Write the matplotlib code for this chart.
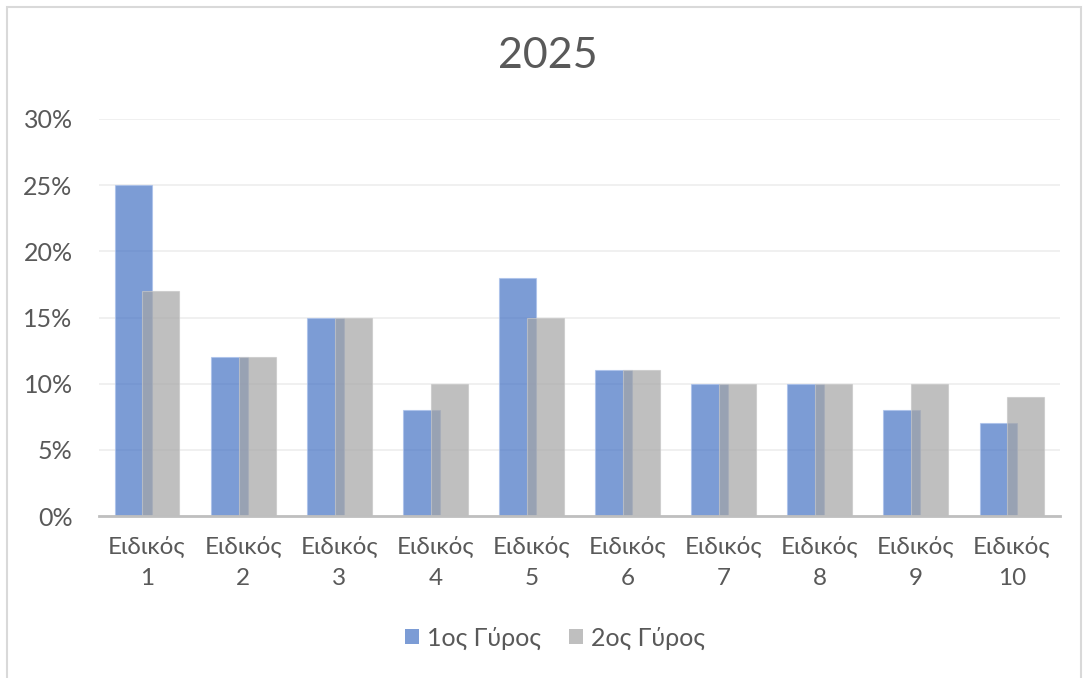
import matplotlib
matplotlib.use("Agg")
import matplotlib.pyplot as plt
import numpy as np
from matplotlib.patches import Rectangle
from matplotlib.ticker import FuncFormatter

categories = ["Ειδικός\n1", "Ειδικός\n2", "Ειδικός\n3", "Ειδικός\n4", "Ειδικός\n5",
              "Ειδικός\n6", "Ειδικός\n7", "Ειδικός\n8", "Ειδικός\n9", "Ειδικός\n10"]
round1 = [25, 12, 15, 8, 18, 11, 10, 10, 8, 7]
round2 = [17, 12, 15, 10, 15, 11, 10, 10, 10, 9]
series_names = ["1ος Γύρος", "2ος Γύρος"]
title = "2025"

plt.rcParams['font.family'] = ['Lato', 'DejaVu Sans']
W, H = 1088, 678
fig = plt.figure(figsize=(W / 100, H / 100), dpi=100)
ax = fig.add_axes([99 / W, 1 - 516 / H, 961 / W, (516 - 119) / H])

x = np.arange(len(categories))
bw = 0.385
off = 0.145
blue = "#4472C4"
gray = "#A5A5A5"
ax.bar(x - off, round1, bw, color=blue, alpha=0.7, edgecolor="#A9C0EA", linewidth=0.8, zorder=2, label=series_names[0])
ax.bar(x + off, round2, bw, color=gray, alpha=0.7, edgecolor="#C8C8C8", linewidth=0.8, zorder=3, label=series_names[1])

ax.set_xlim(-0.5, len(categories) - 0.5)
ax.set_ylim(0, 30)
ax.set_yticks(np.arange(0, 31, 5))
ax.yaxis.set_major_formatter(FuncFormatter(lambda v, p: f"{v:.0f}%"))
ax.set_xticks(x)
ax.set_xticklabels(categories, fontsize=17.5, color="#595959", linespacing=1.6)
ax.tick_params(axis='y', labelsize=18, labelcolor="#595959", length=0, pad=19)
ax.tick_params(axis='x', length=0, pad=14)
ax.grid(axis='y', color="#EDEDED", linewidth=1.2, zorder=0)
ax.set_axisbelow(True)
for s in ["top", "right", "left"]:
    ax.spines[s].set_visible(False)
ax.spines["bottom"].set_color("#BFBFBF")
ax.spines["bottom"].set_linewidth(2)
ax.spines["bottom"].set_zorder(4)

fig.text(548 / W, 1 - 56 / H, title, ha='center', va='center', fontsize=31, color="#595959")

leg = fig.legend(loc='center', bbox_to_anchor=(555 / W, 1 - 638 / H), ncol=2, frameon=False,
                 fontsize=18, handlelength=0.55, handleheight=0.55, columnspacing=1.1, handletextpad=0.35)
for t in leg.get_texts():
    t.set_color("#595959")
for h in leg.legend_handles:
    h.set_edgecolor('none')

fig.patches.append(Rectangle((7 / W, -0.01), (1081 - 7) / W, 1 - 7 / H + 0.01, transform=fig.transFigure,
                             fill=False, edgecolor="#D9D9D9", linewidth=1.5))

fig.savefig("out.png", dpi=100, facecolor="white")
